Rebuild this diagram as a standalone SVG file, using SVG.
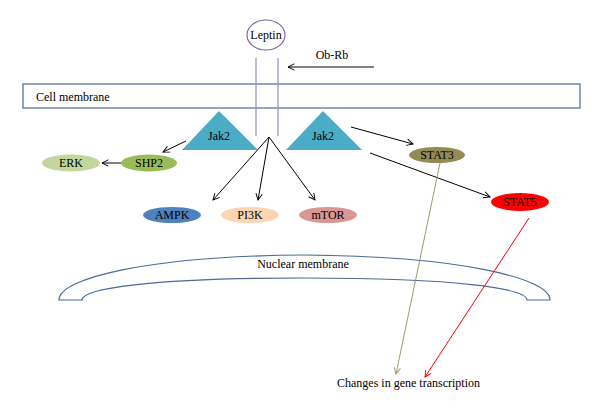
<svg xmlns="http://www.w3.org/2000/svg" width="600" height="411" viewBox="0 0 600 411">
<style>
text{font-family:"Liberation Serif","Times New Roman",serif;font-size:12px;fill:#000}
.c{text-anchor:middle}
.ln{stroke:#000;stroke-width:1;fill:none}
.mem{stroke:#4a6a99;stroke-width:1.2;fill:#fff}
.jak{fill:#4bacc6}
</style>
<defs>
<marker id="ah" viewBox="0 0 10 10" refX="9" refY="5" markerWidth="8" markerHeight="8" markerUnits="userSpaceOnUse" orient="auto">
<polyline points="1,1 9,5 1,9" fill="none" stroke="#000" stroke-width="1.2"/>
</marker>
<marker id="ahT" viewBox="0 0 10 10" refX="9" refY="5" markerWidth="8" markerHeight="8" markerUnits="userSpaceOnUse" orient="auto">
<polyline points="1,1 9,5 1,9" fill="none" stroke="#a39a6a" stroke-width="1.2"/>
</marker>
<marker id="ahR" viewBox="0 0 10 10" refX="9" refY="5" markerWidth="8" markerHeight="8" markerUnits="userSpaceOnUse" orient="auto">
<polyline points="1,1 9,5 1,9" fill="none" stroke="#ff0000" stroke-width="1.2"/>
</marker>
</defs>
<rect width="600" height="411" fill="#fff"/>
<g id="cell-membrane">
<rect class="mem" x="23" y="84" width="557" height="24"/>
<text x="36" y="101">Cell membrane</text>
</g>
<g id="nuclear-membrane">
<path class="mem" d="M59,300 C59,278 150,256 304,255 C458,256 550,278 550,300 L527,300 C527,289 460,278 304,278 C148,278 82,289 82,300 Z"/>
<text class="c" x="303" y="268">Nuclear membrane</text>
</g>
<g id="leptin">
<ellipse cx="266" cy="35" rx="19" ry="15" fill="#fff" stroke="#8064a2" stroke-width="1.2"/>
<text class="c" x="266" y="39">Leptin</text>
</g>
<g id="receptor">
<line x1="256" y1="58" x2="256" y2="136" stroke="#9c88bd" stroke-width="1.2"/>
<line x1="278" y1="58" x2="278" y2="136" stroke="#9c88bd" stroke-width="1.2"/>
</g>
<g id="ob-rb">
<text class="c" x="332" y="59">Ob-Rb</text>
</g>
<g id="jak2-left">
<polygon class="jak" points="219,111 182,150 258,150"/>
<text class="c" x="219" y="140">Jak2</text>
</g>
<g id="jak2-right">
<polygon class="jak" points="323,111 286,150 362,150"/>
<text class="c" x="323" y="140">Jak2</text>
</g>
<g id="shp2">
<ellipse cx="149" cy="163" rx="28" ry="8.5" fill="#9bbb59"/>
<text class="c" x="149" y="167">SHP2</text>
</g>
<g id="erk">
<ellipse cx="71" cy="163" rx="29" ry="8.5" fill="#c3d69b"/>
<text class="c" x="71" y="167">ERK</text>
</g>
<g id="ampk">
<ellipse cx="172" cy="215" rx="29" ry="8" fill="#4f81bd"/>
<text class="c" x="172" y="219">AMPK</text>
</g>
<g id="pi3k">
<ellipse cx="250" cy="215" rx="29" ry="8" fill="#fcd5b5"/>
<text class="c" x="250" y="219">PI3K</text>
</g>
<g id="mtor">
<ellipse cx="328" cy="215" rx="29" ry="8" fill="#d99694"/>
<text class="c" x="328" y="219">mTOR</text>
</g>
<g id="stat3">
<ellipse cx="437" cy="155" rx="28" ry="8" fill="#948a54"/>
<text class="c" x="437" y="159">STAT3</text>
</g>
<g id="stat5">
<ellipse cx="520" cy="202" rx="29" ry="9" fill="#ff0000"/>
<text class="c" x="520" y="206">STAT5</text>
</g>
<g id="gene-transcription">
<text x="337" y="387">Changes in gene transcription</text>
</g>
<g id="connectors">
<line class="ln" x1="374" y1="67" x2="288" y2="67" marker-end="url(#ah)"/>
<line class="ln" x1="186" y1="141" x2="163" y2="152" marker-end="url(#ah)"/>
<line class="ln" x1="121" y1="163" x2="102" y2="163" marker-end="url(#ah)"/>
<line class="ln" x1="269" y1="137" x2="213" y2="200" marker-end="url(#ah)"/>
<line class="ln" x1="269" y1="137" x2="258" y2="200" marker-end="url(#ah)"/>
<line class="ln" x1="269" y1="137" x2="315" y2="200" marker-end="url(#ah)"/>
<line class="ln" x1="351" y1="127" x2="413" y2="144" marker-end="url(#ah)"/>
<line class="ln" x1="370" y1="153" x2="490" y2="197" marker-end="url(#ah)"/>
<line x1="440" y1="163" x2="396" y2="374" stroke="#a39a6a" stroke-width="1" marker-end="url(#ahT)"/>
<line x1="529" y1="218" x2="425" y2="377" stroke="#ff0000" stroke-width="1" marker-end="url(#ahR)"/>
</g>
</svg>
